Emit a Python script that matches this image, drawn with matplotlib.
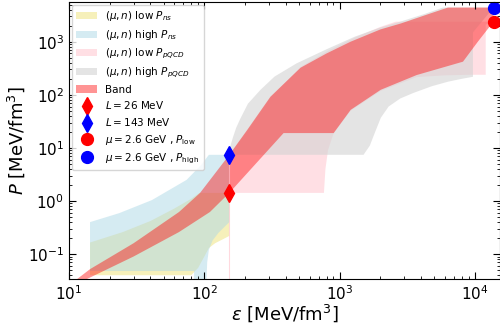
import numpy as np
import matplotlib
matplotlib.use("Agg")
import matplotlib.pyplot as plt
from matplotlib.lines import Line2D
from matplotlib.patches import Patch

# neutron-star end point and pQCD end point
eps_ns = 153.0
P_ns_low, P_ns_high = 1.42, 7.4
eps_pqcd = 13700.0
P_pqcd_low, P_pqcd_high = 2380.0, 4390.0

# (mu, n) low P_ns region (yellow)
ns_low_up_eps = [14.3, 25, 40, 60, 80, 92, 153]
ns_low_up_P = [0.165, 0.26, 0.42, 0.72, 1.1, 1.42, 1.42]
ns_low_lo_eps = [14.3, 80, 90, 100, 108, 120, 137, 153]
ns_low_lo_P = [0.040, 0.040, 0.055, 0.09, 0.13, 0.16, 0.19, 0.22]

# (mu, n) high P_ns region (light blue)
ns_high_up_eps = [14.3, 23.5, 41, 74, 95, 108, 153]
ns_high_up_P = [0.40, 0.59, 1.04, 2.5, 4.8, 7.4, 7.4]
ns_high_lo_eps = [14.3, 84, 84, 103, 105, 108, 115, 127, 140, 153]
ns_high_lo_P = [0.048, 0.048, 0.02, 0.02, 0.07, 0.12, 0.18, 0.25, 0.32, 0.40]

# (mu, n) low P_pQCD region (pink)
pq_low_up_eps = [153, 153, 208, 308, 514, 800, 1300, 2000, 2600, 13700]
pq_low_up_P = [1.42, 7.4, 21, 88, 335, 650, 1200, 1900, 2380, 2380]
pq_low_lo_eps = [153, 765, 785, 820, 903, 1206, 2010, 3700, 6000, 9400, 12000, 12000, 13700]
pq_low_lo_P = [1.42, 1.42, 4, 9, 19, 50, 118, 215, 232, 238, 238, 2100, 2380]

# (mu, n) high P_pQCD region (grey)
pq_high_up_eps = [153, 156, 163, 172, 185, 210, 260, 330, 480, 800, 1300, 2000, 2830, 4200, 5800, 13700]
pq_high_up_P = [7.4, 11, 16, 24, 36, 68, 124, 220, 390, 720, 1250, 1850, 2400, 3300, 4390, 4390]
pq_high_lo_eps = [153, 1500, 1670, 1815, 2015, 2300, 2800, 3530, 4800, 6300, 8000, 9660, 9660, 13700]
pq_high_lo_P = [7.4, 7.4, 11, 19, 37, 60, 85, 109, 145, 176, 200, 218, 1500, 4390]

# final band (red)
band_up_eps = [10.4, 11.5, 14.3, 30, 65, 93, 153, 208, 308, 514, 800, 1206, 2000, 2830, 4200, 6310, 13700]
band_up_P = [0.028, 0.034, 0.052, 0.16, 0.62, 1.42, 7.4, 22, 92, 323, 600, 1000, 1700, 2200, 3100, 4390, 4390]
band_lo_eps = [11.8, 13.6, 30, 65, 110, 153, 385, 903, 1206, 2010, 3700, 8150, 10500, 13700]
band_lo_P = [0.028, 0.034, 0.09, 0.26, 0.62, 1.42, 19, 19, 52, 124, 235, 420, 1000, 2380]


def poly(up_e, up_p, lo_e, lo_p):
    e = np.concatenate([up_e, lo_e[::-1]])
    p = np.concatenate([up_p, lo_p[::-1]])
    return e, p


fig = plt.figure(figsize=(5, 3.24), dpi=100)
ax = fig.add_axes([0.138, 0.139, 0.862, 0.855])

c_yel, a_yel = "khaki", 0.6
c_blu, a_blu = "lightblue", 0.5
c_pnk, a_pnk = "pink", 0.5
c_gry, a_gry = "lightgrey", 0.6
c_bnd, a_bnd = "red", 0.42

ax.fill(*poly(ns_low_up_eps, ns_low_up_P, ns_low_lo_eps, ns_low_lo_P),
        color=c_yel, alpha=a_yel, lw=0)
ax.fill(*poly(ns_high_up_eps, ns_high_up_P, ns_high_lo_eps, ns_high_lo_P),
        color=c_blu, alpha=a_blu, lw=0)
ax.fill(*poly(pq_low_up_eps, pq_low_up_P, pq_low_lo_eps, pq_low_lo_P),
        color=c_pnk, alpha=a_pnk, lw=0)
ax.fill(*poly(pq_high_up_eps, pq_high_up_P, pq_high_lo_eps, pq_high_lo_P),
        color=c_gry, alpha=a_gry, lw=0)
ax.fill(*poly(band_up_eps, band_up_P, band_lo_eps, band_lo_P),
        color=c_bnd, alpha=a_bnd, lw=0)
ax.vlines(eps_ns, 0.01, P_ns_high, color="pink", lw=0.8, alpha=0.6)

ax.plot(eps_ns, P_ns_low, "d", color="red", ms=9, clip_on=False)
ax.plot(eps_ns, P_ns_high, "d", color="blue", ms=9, clip_on=False)
ax.plot(eps_pqcd, P_pqcd_low, "o", color="red", ms=8.5, clip_on=False)
ax.plot(eps_pqcd, P_pqcd_high, "o", color="blue", ms=8.5, clip_on=False)

ax.set_xscale("log")
ax.set_yscale("log")
ax.set_xlim(10, 1.53e4)
ax.set_ylim(0.034, 5600)
ax.tick_params(which="both", direction="in", top=True, right=True, labelsize=11)
ax.tick_params(which="major", length=5)
ax.tick_params(which="minor", length=2.5)
ax.set_xlabel(r"$\varepsilon\ [\mathrm{MeV/fm^3}]$", fontsize=13, labelpad=0)
ax.set_ylabel(r"$P\ [\mathrm{MeV/fm^3}]$", fontsize=13, labelpad=1)

handles = [
    Patch(color=c_yel, alpha=a_yel, lw=0, label=r"$(\mu, n)$ low $P_{ns}$"),
    Patch(color=c_blu, alpha=a_blu, lw=0, label=r"$(\mu, n)$ high $P_{ns}$"),
    Patch(color=c_pnk, alpha=a_pnk, lw=0, label=r"$(\mu, n)$ low $P_{pQCD}$"),
    Patch(color=c_gry, alpha=a_gry, lw=0, label=r"$(\mu, n)$ high $P_{pQCD}$"),
    Patch(color=c_bnd, alpha=a_bnd, lw=0, label="Band"),
    Line2D([], [], marker="d", ls="none", color="red", ms=9, label=r"$L = 26$ MeV"),
    Line2D([], [], marker="d", ls="none", color="blue", ms=9, label=r"$L = 143$ MeV"),
    Line2D([], [], marker="o", ls="none", color="red", ms=8.5,
           label=r"$\mu = 2.6$ GeV , $P_{\rm low}$"),
    Line2D([], [], marker="o", ls="none", color="blue", ms=8.5,
           label=r"$\mu = 2.6$ GeV , $P_{\rm high}$"),
]
ax.legend(handles=handles, loc="upper left", fontsize=7.5, labelspacing=0.45,
          borderaxespad=0.3)

fig.savefig("out.png", dpi=100)
